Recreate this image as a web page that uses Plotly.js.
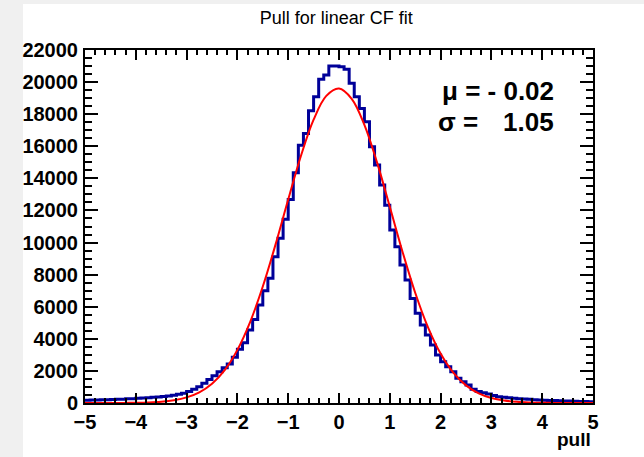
<!DOCTYPE html>
<html>
<head>
<meta charset="utf-8">
<script src="https://cdn.plot.ly/plotly-3.0.1.min.js"></script>
<style>html,body{margin:0;padding:0;background:#f0f0f0;}#chart{width:644px;height:457px;}</style>
</head>
<body>
<div id="chart"></div>
<script>
// Histogram: 100 bins of width 0.1 from -5 to 5
const xMin = -5;
const binWidth = 0.1;
const counts = [
  170, 180, 190, 200, 210, 220, 230, 240, 260, 270,
  290, 310, 330, 360, 380, 410, 440, 480, 540, 600,
  710, 850, 1020, 1230, 1470, 1700, 1950, 2200, 2430, 2850,
  3350, 3760, 4550, 5210, 6100, 7000, 7770, 9120, 10260, 11450,
  12690, 14350, 16070, 16800, 18210, 19080, 20170, 20440, 21000, 21000,
  20950, 20800, 19920, 19080, 18360, 17530, 15970, 14830, 13580, 12330,
  10780, 9740, 8600, 7660, 6520, 5590, 4860, 4240, 3610, 2990,
  2570, 2260, 1950, 1540, 1330, 1120, 850, 710, 640, 560,
  460, 390, 360, 330, 300, 270, 250, 230, 210, 190,
  170, 160, 150, 140, 130, 120, 110, 100, 90, 80
];
// Gaussian fit curve
const fitX = [-5, -4.75, -4.5, -4.25, -4, -3.75, -3.5, -3.25, -3, -2.75, -2.5, -2.25, -2, -1.75, -1.5, -1.25, -1, -0.75, -0.5, -0.25,
  0, 0.25, 0.5, 0.75, 1, 1.25, 1.5, 1.75, 2, 2.25, 2.5, 2.75, 3, 3.25, 3.5, 3.75, 4, 4.25, 4.5, 4.75, 5];
const fitY = [0, 1, 2, 6, 15, 36, 81, 173, 349, 667, 1205, 2054, 3312, 5045, 7258, 9869, 12679, 15392, 17656, 19140,
  19600, 18960, 17338, 14979, 12228, 9432, 6874, 4734, 3081, 1893, 1100, 604, 313, 154, 71, 31, 13, 5, 2, 1, 0];
const titleText = 'Pull for linear CF fit';
const xTitle = 'pull';
const statLine1 = 'μ = - 0.02';
const statLabel2 = 'σ =';
const statValue2 = '1.05';

// step outline from bin edges
const edgesX = [];
const stepY = [];
for (let i = 0; i < counts.length; i++) {
  edgesX.push(xMin + i * binWidth);
  stepY.push(counts[i]);
}
edgesX.push(xMin + counts.length * binWidth);
stepY.push(counts[counts.length - 1]);

const FONT = 'Liberation Sans, Arial, sans-serif';
const tickFont = {family: FONT, size: 20, color: '#000', weight: 'bold'};

const traces = [
  {x: edgesX, y: stepY, type: 'scatter', mode: 'lines', line: {shape: 'hv', color: '#000099', width: 3}, hoverinfo: 'skip'},
  {x: fitX, y: fitY, type: 'scatter', mode: 'lines', line: {shape: 'spline', color: '#ff0000', width: 2}, hoverinfo: 'skip'}
];

const layout = {
  width: 644, height: 457,
  margin: {l: 85, r: 51, t: 50, b: 54},
  paper_bgcolor: '#f0f0f0',
  plot_bgcolor: '#ffffff',
  showlegend: false,
  title: {text: titleText, font: {family: FONT, size: 18, color: '#000'}, x: 0.522, xanchor: 'center', y: 0.962, yanchor: 'middle'},
  xaxis: {
    range: [-5, 5], dtick: 1, tick0: 0, ticks: 'inside', ticklen: 10, tickwidth: 2, tickcolor: '#000',
    showline: true, linecolor: '#000', linewidth: 2, mirror: 'ticks', showgrid: false, zeroline: false,
    tickfont: tickFont, ticklabelstandoff: 0,
    minor: {dtick: 0.2, ticks: 'inside', ticklen: 5, tickwidth: 2, tickcolor: '#000', showgrid: false}
  },
  yaxis: {
    range: [0, 22000], dtick: 2000, ticks: 'inside', ticklen: 13, tickwidth: 2, tickcolor: '#000',
    showline: true, linecolor: '#000', linewidth: 2, mirror: 'ticks', showgrid: false, zeroline: false,
    tickformat: 'd', separatethousands: false,
    tickfont: tickFont, ticklabelstandoff: 1,
    minor: {dtick: 500, ticks: 'inside', ticklen: 7, tickwidth: 2, tickcolor: '#000', showgrid: false}
  },
  shapes: [
    {type: 'rect', xref: 'paper', yref: 'paper', x0: -0.122, x1: 1.2, y0: -0.3, y1: 1.1303, fillcolor: '#ffffff', line: {width: 0}, layer: 'below'}
  ],
  annotations: [
    {text: xTitle, xref: 'paper', yref: 'paper', x: 1.0, y: (403 - 439) / 353, xanchor: 'right', yanchor: 'middle', showarrow: false,
     font: {family: FONT, size: 19, color: '#000', weight: 'bold'}},
    {text: statLine1, xref: 'paper', yref: 'paper', x: (556 - 85) / 508, y: 0.884, xanchor: 'right', yanchor: 'middle', showarrow: false,
     font: {family: FONT, size: 26, color: '#000', weight: 'bold'}},
    {text: statLabel2, xref: 'paper', yref: 'paper', x: (436 - 85) / 508, y: 0.796, xanchor: 'left', yanchor: 'middle', showarrow: false,
     font: {family: FONT, size: 26, color: '#000', weight: 'bold'}},
    {text: statValue2, xref: 'paper', yref: 'paper', x: (556 - 85) / 508, y: 0.796, xanchor: 'right', yanchor: 'middle', showarrow: false,
     font: {family: FONT, size: 26, color: '#000', weight: 'bold'}}
  ]
};

Plotly.newPlot('chart', traces, layout, {displayModeBar: false, staticPlot: true});
</script>
</body>
</html>
